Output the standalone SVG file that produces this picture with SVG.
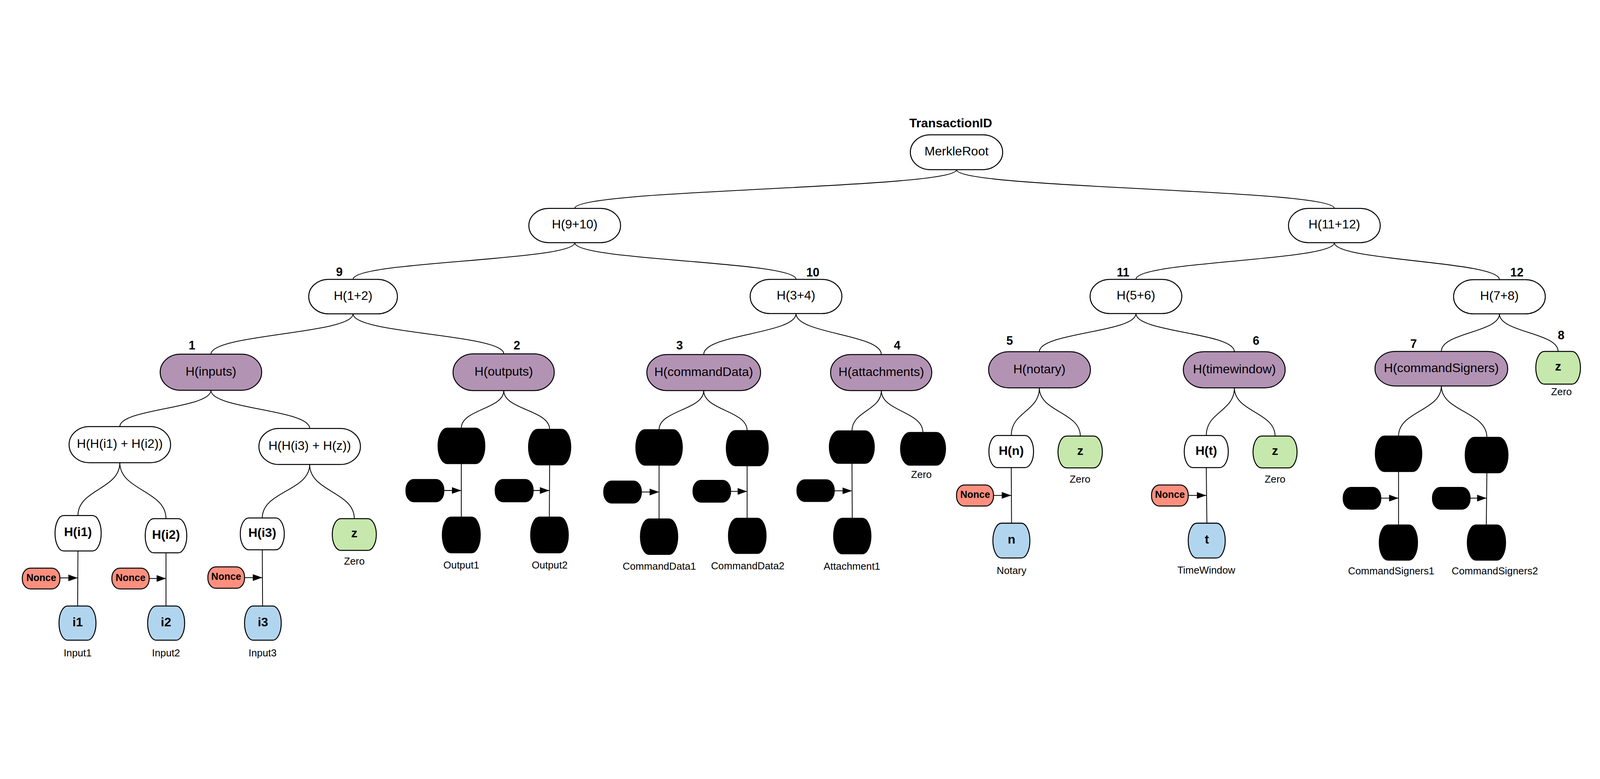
<svg xmlns="http://www.w3.org/2000/svg" width="5234" height="1995" viewBox="0 0 5234 1995">
<defs>
<style>
svg:root{width:100vw;height:100vh}
.n{stroke:#000;stroke-width:3.2}
.w{fill:#fff}.p{fill:#b393b4}.g{fill:#c6e8ac}.b{fill:#b2d5ef}.r{fill:#fe8f7e}.k{fill:#000}
.c{fill:none;stroke:#000;stroke-width:2.6}
.a{fill:none;stroke:#000;stroke-width:2.6;marker-end:url(#ah)}
text{font-family:"Liberation Sans",Arial,sans-serif;fill:#000;text-anchor:middle}
.t{font-size:41px}
.tb{font-size:41px;font-weight:bold}
.s{font-size:33px}
.nb{font-size:32px;font-weight:bold}
.num{font-size:39px;font-weight:bold}
</style>
<marker id="ah" markerUnits="userSpaceOnUse" markerWidth="32" markerHeight="22" refX="31" refY="11" orient="auto">
<path d="M0,0 L31,11 L0,22 Z" fill="#000"/>
</marker>
</defs>
<rect width="5234" height="1995" fill="#fff"/>

<g id="connectors">
<path class="c" d="M3129,278 C3129,341 1880,341 1880,405"/>
<path class="c" d="M3129,278 C3129,341 4365,341 4365,405"/>
<path class="c" d="M1880,517 C1880,577 1155,577 1155,637"/>
<path class="c" d="M1880,517 C1880,577 2604,577 2604,637"/>
<path class="c" d="M4365,517 C4365,577 3716,577 3716,637"/>
<path class="c" d="M4365,517 C4365,577 4905,577 4905,638"/>
<path class="c" d="M1155,750 C1155,816 690,816 690,882"/>
<path class="c" d="M1155,750 C1155,816 1648,816 1648,881"/>
<path class="c" d="M2604,749 C2604,816 2302,816 2302,883"/>
<path class="c" d="M2604,749 C2604,816 2883,816 2883,883"/>
<path class="c" d="M3716,749 C3716,811 3400,811 3400,874"/>
<path class="c" d="M3716,749 C3716,811 4038,811 4038,874"/>
<path class="c" d="M4905,750 C4905,811 4715,811 4715,873"/>
<path class="c" d="M4905,750 C4905,811 5097,811 5097,873"/>
<path class="c" d="M690,1000 C690,1060 392,1060 392,1119"/>
<path class="c" d="M690,1000 C690,1062 1013,1062 1013,1125"/>
<path class="c" d="M392,1237 C392,1324 255,1324 255,1410"/>
<path class="c" d="M392,1237 C392,1328 543,1328 543,1420"/>
<path class="c" d="M1013,1243 C1013,1330 858,1330 858,1418"/>
<path class="c" d="M1013,1243 C1013,1332 1159,1332 1159,1420"/>
<path class="c" d="M1648,1001 C1648,1062 1509,1062 1509,1124"/>
<path class="c" d="M1648,1001 C1648,1064 1798,1064 1798,1128"/>
<path class="c" d="M2302,1001 C2302,1065 2156,1065 2156,1129"/>
<path class="c" d="M2302,1001 C2302,1066 2444,1066 2444,1132"/>
<path class="c" d="M2883,1001 C2883,1067 2787,1067 2787,1133"/>
<path class="c" d="M2883,1001 C2883,1069 3019,1069 3019,1138"/>
<path class="c" d="M3400,992 C3400,1070 3308,1070 3308,1148"/>
<path class="c" d="M3400,992 C3400,1071 3534,1071 3534,1150"/>
<path class="c" d="M4038,992 C4038,1070 3946,1070 3946,1148"/>
<path class="c" d="M4038,992 C4038,1071 4171,1071 4171,1150"/>
<path class="c" d="M4715,986 C4715,1068 4575,1068 4575,1150"/>
<path class="c" d="M4715,986 C4715,1070 4864,1070 4864,1154"/>
<path class="c" d="M255,1526 L254,1706"/>
<path class="c" d="M543,1532 L543,1706"/>
<path class="c" d="M858,1522 L859,1706"/>
<path class="c" d="M1509,1240 L1509,1415"/>
<path class="c" d="M1798,1244 L1797,1415"/>
<path class="c" d="M2156,1245 L2156,1421"/>
<path class="c" d="M2444,1247 L2444,1419"/>
<path class="c" d="M2787,1239 L2788,1419"/>
<path class="c" d="M3308,1253 L3309,1435"/>
<path class="c" d="M3946,1253 L3948,1435"/>
<path class="c" d="M4575,1266 L4575,1441"/>
<path class="c" d="M4864,1270 L4862,1441"/>
<path class="a" d="M196,1614 L254,1614"/>
<path class="a" d="M488,1616 L543,1616"/>
<path class="a" d="M800,1613 L858,1613"/>
<path class="a" d="M1452,1328 L1509,1328"/>
<path class="a" d="M1744,1328 L1797,1328"/>
<path class="a" d="M2098,1333 L2156,1333"/>
<path class="a" d="M2390,1331 L2444,1331"/>
<path class="a" d="M2729,1329 L2787,1329"/>
<path class="a" d="M3250,1344 L3308,1344"/>
<path class="a" d="M3887,1344 L3946,1344"/>
<path class="a" d="M4517,1353 L4575,1353"/>
<path class="a" d="M4809,1353 L4863,1353"/>
</g>

<g id="title"><text class="tb" x="3110" y="140">TransactionID</text></g>

<g id="merkleroot"><rect class="n w" x="2978" y="164" width="302" height="114" rx="65" ry="57"/><text class="t" x="3129" y="231">MerkleRoot</text></g>
<g id="h9_10"><rect class="n w" x="1730" y="405" width="300" height="112" rx="65" ry="56"/><text class="t" x="1880" y="471">H(9+10)</text></g>
<g id="h11_12"><rect class="n w" x="4215" y="405" width="300" height="112" rx="65" ry="56"/><text class="t" x="4365" y="471">H(11+12)</text></g>

<g id="h1_2"><text class="num" x="1110" y="626">9</text><rect class="n w" x="1010" y="637" width="290" height="113" rx="65" ry="56"/><text class="t" x="1155" y="704">H(1+2)</text></g>
<g id="h3_4"><text class="num" x="2659" y="628">10</text><rect class="n w" x="2454" y="637" width="300" height="112" rx="65" ry="56"/><text class="t" x="2604" y="703">H(3+4)</text></g>
<g id="h5_6"><text class="num" x="3674" y="628">11</text><rect class="n w" x="3566" y="637" width="300" height="112" rx="65" ry="56"/><text class="t" x="3716" y="703">H(5+6)</text></g>
<g id="h7_8"><text class="num" x="4962" y="627">12</text><rect class="n w" x="4755" y="638" width="300" height="112" rx="65" ry="56"/><text class="t" x="4905" y="704">H(7+8)</text></g>

<g id="hinputs"><text class="num" x="628" y="866">1</text><rect class="n p" x="524" y="882" width="332" height="118" rx="66" ry="59"/><text class="t" x="690" y="952">H(inputs)</text></g>
<g id="houtputs"><text class="num" x="1691" y="866">2</text><rect class="n p" x="1482" y="881" width="331" height="120" rx="66" ry="60"/><text class="t" x="1648" y="952">H(outputs)</text></g>
<g id="hcommanddata"><text class="num" x="2223" y="867">3</text><rect class="n p" x="2116" y="883" width="372" height="118" rx="66" ry="59"/><text class="t" x="2302" y="953">H(commandData)</text></g>
<g id="hattachments"><text class="num" x="2935" y="867">4</text><rect class="n p" x="2717" y="883" width="331" height="118" rx="66" ry="59"/><text class="t" x="2883" y="953">H(attachments)</text></g>
<g id="hnotary"><text class="num" x="3303" y="851">5</text><rect class="n p" x="3234" y="874" width="333" height="118" rx="66" ry="59"/><text class="t" x="3400" y="944">H(notary)</text></g>
<g id="htimewindow"><text class="num" x="4109" y="851">6</text><rect class="n p" x="3871" y="874" width="333" height="118" rx="66" ry="59"/><text class="t" x="4038" y="944">H(timewindow)</text></g>
<g id="hcommandsigners"><text class="num" x="4624" y="862">7</text><rect class="n p" x="4498" y="873" width="434" height="113" rx="66" ry="56"/><text class="t" x="4715" y="941">H(commandSigners)</text></g>
<g id="z8"><text class="num" x="5107" y="833">8</text><rect class="n g" x="5024" y="873" width="146" height="107" rx="28" ry="53"/><text class="tb" x="5097" y="936">z</text><text class="s" x="5108" y="1016">Zero</text></g>

<g id="hhi1hi2"><rect class="n w" x="226" y="1119" width="332" height="118" rx="66" ry="59"/><text class="t" x="392" y="1189">H(H(i1) + H(i2))</text></g>
<g id="hhi3hz"><rect class="n w" x="847" y="1125" width="332" height="118" rx="66" ry="59"/><text class="t" x="1013" y="1195">H(H(i3) + H(z))</text></g>

<g id="hi1"><rect class="n w" x="180" y="1410" width="151" height="116" rx="28" ry="58"/><text class="tb" x="255" y="1477">H(i1)</text></g>
<g id="hi2"><rect class="n w" x="475" y="1420" width="136" height="112" rx="28" ry="56"/><text class="tb" x="543" y="1486">H(i2)</text></g>
<g id="hi3"><rect class="n w" x="786" y="1418" width="144" height="104" rx="28" ry="52"/><text class="tb" x="858" y="1480">H(i3)</text></g>
<g id="zinputs"><rect class="n g" x="1087" y="1420" width="144" height="104" rx="28" ry="52"/><text class="tb" x="1159" y="1481">z</text><text class="s" x="1159" y="1571">Zero</text></g>
<g id="nonce1"><rect class="n r" x="73" y="1582" width="123" height="68" rx="26" ry="32"/><text class="nb" x="135" y="1624">Nonce</text></g>
<g id="nonce2"><rect class="n r" x="366" y="1582" width="122" height="68" rx="26" ry="32"/><text class="nb" x="427" y="1624">Nonce</text></g>
<g id="nonce3"><rect class="n r" x="680" y="1578" width="120" height="70" rx="26" ry="33"/><text class="nb" x="740" y="1621">Nonce</text></g>
<g id="i1"><rect class="n b" x="193" y="1706" width="121" height="112" rx="28" ry="56"/><text class="tb" x="254" y="1772">i1</text><text class="s" x="254" y="1871">Input1</text></g>
<g id="i2"><rect class="n b" x="483" y="1706" width="121" height="112" rx="28" ry="56"/><text class="tb" x="543" y="1772">i2</text><text class="s" x="543" y="1871">Input2</text></g>
<g id="i3"><rect class="n b" x="800" y="1706" width="120" height="112" rx="28" ry="56"/><text class="tb" x="860" y="1772">i3</text><text class="s" x="859" y="1871">Input3</text></g>

<g id="output1"><rect class="n k" x="1433" y="1124" width="153" height="116" rx="30" ry="58"/><rect class="n k" x="1328" y="1292" width="124" height="73" rx="26" ry="34"/><rect class="n k" x="1447" y="1415" width="124" height="117" rx="28" ry="58"/><text class="s" x="1509" y="1583">Output1</text></g>
<g id="output2"><rect class="n k" x="1729" y="1128" width="138" height="116" rx="30" ry="58"/><rect class="n k" x="1620" y="1292" width="124" height="73" rx="26" ry="34"/><rect class="n k" x="1736" y="1415" width="123" height="117" rx="28" ry="58"/><text class="s" x="1798" y="1583">Output2</text></g>
<g id="commanddata1"><rect class="n k" x="2080" y="1129" width="152" height="116" rx="30" ry="58"/><rect class="n k" x="1975" y="1297" width="123" height="72" rx="26" ry="34"/><rect class="n k" x="2095" y="1421" width="122" height="116" rx="28" ry="58"/><text class="s" x="2157" y="1587">CommandData1</text></g>
<g id="commanddata2"><rect class="n k" x="2376" y="1132" width="137" height="115" rx="30" ry="57"/><rect class="n k" x="2267" y="1295" width="123" height="71" rx="26" ry="34"/><rect class="n k" x="2383" y="1419" width="123" height="115" rx="28" ry="57"/><text class="s" x="2446" y="1586">CommandData2</text></g>
<g id="attachment1"><rect class="n k" x="2713" y="1133" width="147" height="106" rx="30" ry="53"/><rect class="n k" x="2607" y="1293" width="122" height="71" rx="26" ry="34"/><rect class="n k" x="2727" y="1419" width="122" height="116" rx="28" ry="58"/><text class="s" x="2787" y="1587">Attachment1</text></g>
<g id="zeroatt"><rect class="n k" x="2946" y="1138" width="147" height="107" rx="30" ry="53"/><text class="s" x="3014" y="1287">Zero</text></g>

<g id="hn"><rect class="n w" x="3235" y="1148" width="146" height="105" rx="28" ry="52"/><text class="tb" x="3308" y="1211">H(n)</text></g>
<g id="znotary"><rect class="n g" x="3461" y="1150" width="145" height="104" rx="28" ry="52"/><text class="tb" x="3534" y="1211">z</text><text class="s" x="3533" y="1302">Zero</text></g>
<g id="nonce4"><rect class="n r" x="3129" y="1310" width="121" height="69" rx="26" ry="32"/><text class="nb" x="3190" y="1352">Nonce</text></g>
<g id="n"><rect class="n b" x="3248" y="1435" width="121" height="114" rx="28" ry="57"/><text class="tb" x="3309" y="1502">n</text><text class="s" x="3309" y="1601">Notary</text></g>

<g id="ht"><rect class="n w" x="3874" y="1148" width="144" height="105" rx="28" ry="52"/><text class="tb" x="3946" y="1211">H(t)</text></g>
<g id="ztw"><rect class="n g" x="4099" y="1150" width="144" height="104" rx="28" ry="52"/><text class="tb" x="4171" y="1211">z</text><text class="s" x="4171" y="1302">Zero</text></g>
<g id="nonce5"><rect class="n r" x="3767" y="1310" width="120" height="69" rx="26" ry="32"/><text class="nb" x="3827" y="1352">Nonce</text></g>
<g id="t"><rect class="n b" x="3887" y="1435" width="121" height="114" rx="28" ry="57"/><text class="tb" x="3948" y="1502">t</text><text class="s" x="3946" y="1600">TimeWindow</text></g>

<g id="commandsigners1"><rect class="n k" x="4499" y="1150" width="152" height="116" rx="30" ry="58"/><rect class="n k" x="4394" y="1318" width="123" height="71" rx="26" ry="34"/><rect class="n k" x="4512" y="1441" width="125" height="115" rx="28" ry="57"/><text class="s" x="4551" y="1603">CommandSigners1</text></g>
<g id="commandsigners2"><rect class="n k" x="4793" y="1154" width="140" height="116" rx="30" ry="58"/><rect class="n k" x="4686" y="1318" width="123" height="71" rx="26" ry="34"/><rect class="n k" x="4800" y="1441" width="125" height="115" rx="28" ry="57"/><text class="s" x="4890" y="1603">CommandSigners2</text></g>
</svg>
